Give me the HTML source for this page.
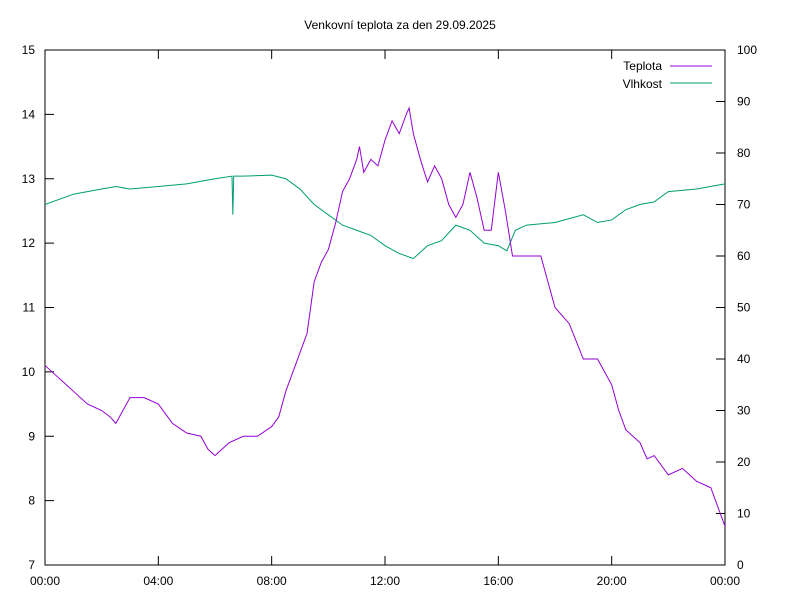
<!DOCTYPE html>
<html><head><meta charset="utf-8"><style>
body{margin:0;background:#fff;}
svg text{font-family:"Liberation Sans",sans-serif;font-size:12px;fill:#000;}
</style></head><body>
<svg id="chart" width="800" height="600" xmlns="http://www.w3.org/2000/svg">
<rect width="800" height="600" fill="#fff"/>
<text x="400" y="29" text-anchor="middle">Venkovní teplota za den 29.09.2025</text>
<g id="axes"></g>
<g id="series"></g>
<g>
<text x="662" y="70" text-anchor="end">Teplota</text>
<line x1="670" y1="66" x2="712" y2="66" stroke="#9400d3"/>
<text x="662" y="88" text-anchor="end">Vlhkost</text>
<line x1="670" y1="83" x2="712" y2="83" stroke="#009e73"/>
</g>
</svg>
<script>
const tempTimes=[0,0.5,1,1.5,2,2.3,2.5,2.75,3,3.5,4,4.5,5,5.5,5.75,6,6.25,6.5,7,7.5,8,8.25,8.5,9,9.25,9.5,9.75,10,10.25,10.5,10.75,11,11.1,11.25,11.5,11.75,12,12.25,12.5,12.75,12.85,13,13.25,13.5,13.75,14,14.25,14.5,14.75,15,15.25,15.5,15.75,16,16.25,16.5,17,17.5,17.75,18,18.5,19,19.5,20,20.25,20.5,21,21.25,21.5,22,22.5,23,23.5,24];
const tempValues=[10.1,9.9,9.7,9.5,9.4,9.3,9.2,9.4,9.6,9.6,9.5,9.2,9.05,9.0,8.8,8.7,8.8,8.9,9.0,9.0,9.15,9.3,9.7,10.3,10.6,11.4,11.7,11.9,12.3,12.8,13.0,13.3,13.5,13.1,13.3,13.2,13.6,13.9,13.7,14.0,14.1,13.7,13.3,12.95,13.2,13.0,12.6,12.4,12.6,13.1,12.7,12.2,12.2,13.1,12.5,11.8,11.8,11.8,11.4,11.0,10.75,10.2,10.2,9.8,9.4,9.1,8.9,8.65,8.7,8.4,8.5,8.3,8.2,7.6];
const humTimes=[0,1,2,2.5,3,4,5,6,6.6,6.63,6.66,6.7,7,8,8.5,9,9.5,10,10.5,11,11.5,12,12.5,13,13.5,14,14.5,15,15.5,16,16.3,16.6,17,18,19,19.5,20,20.5,21,21.5,22,23,24];
const humValues=[70,72,73,73.5,73,73.5,74,75,75.5,68,75.5,75.5,75.5,75.7,75,73,70,68,66,65,64,62,60.5,59.5,62,63,66,65,62.5,62,61,65,66,66.5,68,66.5,67,69,70,70.5,72.5,73,74];
const leftTicks=[7,8,9,10,11,12,13,14,15];
const rightTicks=[0,10,20,30,40,50,60,70,80,90,100];
const xTicks=[0,4,8,12,16,20,24];
const xTickLabels=["00:00","04:00","08:00","12:00","16:00","20:00","00:00"];
const L=45,R=725,T=50,B=565;
const x=h=>L+(R-L)*h/24;
const yT=v=>B-(B-T)*(v-7)/8;
const yH=v=>B-(B-T)*v/100;
const NS="http://www.w3.org/2000/svg";
function mk(tag,attrs,parent){const e=document.createElementNS(NS,tag);for(const k in attrs)e.setAttribute(k,attrs[k]);parent.appendChild(e);return e;}
const ax=document.getElementById('axes');
const frame=mk('rect',{x:L,y:T,width:R-L,height:B-T,fill:'none',stroke:'#000'},ax);


leftTicks.forEach(v=>{const y=yT(v);
 const t=mk('line',{x1:L,y1:y,x2:L+9,y2:y,stroke:'#000'},ax);
 
 
 const tx=mk('text',{x:L-10,y:y+4,'text-anchor':'end'},ax);tx.textContent=v;
 
 });
rightTicks.forEach(v=>{const y=yH(v);
 const t=mk('line',{x1:R-9,y1:y,x2:R,y2:y,stroke:'#000'},ax);
 
 
 const tx=mk('text',{x:R+12,y:y+4,'text-anchor':'start'},ax);tx.textContent=v;
 
 });
xTicks.forEach((h,i)=>{const xx=x(h);
 const t=mk('line',{x1:xx,y1:B,x2:xx,y2:B-9,stroke:'#000'},ax);
 
 
 const t2=mk('line',{x1:xx,y1:T,x2:xx,y2:T+9,stroke:'#000'},ax);
 
 
 const tx=mk('text',{x:xx,y:B+20,'text-anchor':'middle'},ax);tx.textContent=xTickLabels[i];
 
 });
const sg=document.getElementById('series');
const hp=mk('polyline',{points:humTimes.map((h,i)=>x(h)+','+yH(humValues[i])).join(' '),fill:'none',stroke:'#009e73','stroke-width':1},sg);


const tp=mk('polyline',{points:tempTimes.map((h,i)=>x(h)+','+yT(tempValues[i])).join(' '),fill:'none',stroke:'#9400d3','stroke-width':1},sg);


</script>
</body></html>
